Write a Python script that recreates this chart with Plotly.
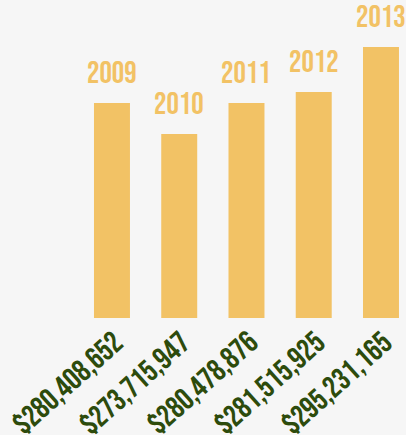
import plotly.graph_objects as go

years = ["2009", "2010", "2011", "2012", "2013"]
amounts = ["$280,408,652", "$273,715,947", "$280,478,876", "$281,515,925", "$295,231,165"]
# relative bar heights as drawn in the infographic
bar_heights = [215, 184, 215, 226, 271]

BAR = "#F2C265"
GREEN = "#2D4B0C"
FONT = "Bebas Neue, Oswald, DejaVu Sans Condensed, sans-serif"

xs = list(range(len(years)))

fig = go.Figure()
fig.add_trace(go.Bar(x=xs, y=bar_heights, marker=dict(color=BAR, line=dict(width=0)),
                     width=0.535, hoverinfo="skip"))

ann = []
for i in xs:
    ann.append(dict(x=i, y=bar_heights[i], text=years[i], showarrow=False,
                    xanchor="center", yanchor="bottom", yshift=9,
                    font=dict(family=FONT, size=31, color=BAR)))
    ann.append(dict(x=i, y=0, text=amounts[i], showarrow=False,
                    xanchor="right", yanchor="top", xshift=22, yshift=-3, textangle=-42,
                    font=dict(family=FONT, size=31, color=GREEN)))

fig.update_layout(
    width=406, height=435,
    margin=dict(l=0, r=0, t=0, b=0),
    paper_bgcolor="#F6F6F6", plot_bgcolor="rgba(0,0,0,0)",
    showlegend=False,
    xaxis=dict(range=[-1.665, 4.372], visible=False, fixedrange=True),
    yaxis=dict(range=[-117, 318], visible=False, fixedrange=True),
    annotations=ann,
)
fig.write_html("out.html", config={"displayModeBar": False},
               post_script="document.body.style.margin='0';document.body.style.background='#F6F6F6';")
